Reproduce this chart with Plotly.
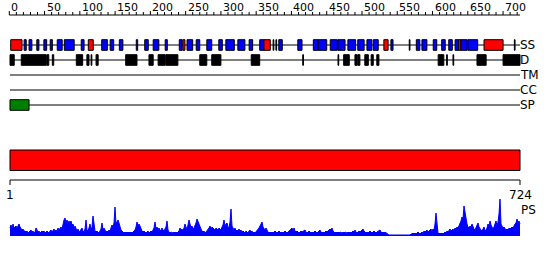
import numpy as np
import plotly.graph_objects as go

# ---------------- data ----------------
LENGTH = 724
TOP_TICKS = list(range(0, 721, 10))
TOP_LABELS = list(range(0, 701, 50))
TRACKS = ["SS", "D", "TM", "CC", "SP"]

SS_HELIX = [(2, 18), (112, 119), (246, 249), (361, 370), (531, 537), (637, 640), (673, 700)]
SS_STRAND = [(21, 24), (28, 32), (39, 42), (49, 53), (58, 61), (68, 75), (78, 92), (102, 106),
             (131, 139), (143, 148), (156, 161), (180, 182), (192, 197), (204, 212), (221, 224),
             (241, 245), (252, 260), (265, 270), (280, 287), (297, 302), (307, 319), (324, 334),
             (340, 345), (355, 361), (374, 375), (378, 379), (382, 387), (409, 415), (431, 438),
             (438, 450), (455, 465), (466, 476), (480, 491), (494, 503), (507, 514), (516, 523),
             (541, 544), (567, 568), (577, 582), (585, 592), (601, 606), (613, 618), (623, 628),
             (632, 637), (640, 649), (650, 664), (716, 717)]
DISORDER = [(1, 7), (17, 52), (53, 56), (61, 63), (95, 104), (110, 113), (116, 117), (123, 126),
            (165, 181), (198, 204), (211, 221), (222, 239), (270, 280), (287, 300), (343, 355),
            (416, 417), (466, 467), (474, 482), (490, 493), (494, 497), (504, 509), (513, 516),
            (521, 524), (608, 616), (620, 621), (629, 630), (663, 676), (700, 724)]
TRANSMEM = []
COILED = []
SIGNAL = [(1, 28)]
DOMAIN = [(1, 724)]

PS_VALUES = [
    8, 11, 7, 12, 8, 9, 10, 8, 11, 12,
    9, 8, 6, 7, 5, 5, 4, 5, 3, 4,
    5, 6, 4, 5, 3, 4, 8, 5, 4, 5,
    3, 4, 5, 4, 5, 3, 4, 5, 4, 3,
    5, 6, 4, 5, 7, 5, 6, 5, 8, 6,
    7, 9, 7, 14, 16, 18, 13, 16, 12, 15,
    13, 15, 11, 12, 8, 10, 6, 5, 7, 4,
    5, 6, 8, 5, 4, 7, 16, 6, 5, 8,
    12, 6, 9, 20, 8, 5, 4, 5, 4, 3,
    5, 7, 13, 6, 8, 5, 4, 5, 4, 6,
    5, 8, 11, 9, 13, 29, 12, 14, 16, 13,
    9, 6, 5, 4, 3, 4, 3, 4, 3, 4,
    3, 4, 3, 4, 5, 6, 9, 14, 10, 12,
    10, 6, 5, 4, 5, 4, 3, 4, 5, 3,
    4, 5, 4, 6, 8, 14, 7, 9, 6, 8,
    5, 6, 8, 6, 5, 7, 9, 15, 6, 4,
    3, 4, 3, 3, 4, 3, 4, 3, 4, 5,
    8, 6, 7, 5, 8, 12, 9, 7, 11, 16,
    12, 9, 10, 7, 8, 10, 13, 17, 14, 12,
    9, 7, 5, 4, 5, 3, 4, 5, 6, 8,
    10, 7, 9, 8, 7, 6, 8, 7, 6, 8,
    7, 6, 9, 11, 16, 10, 12, 13, 9, 8,
    14, 27, 10, 7, 6, 8, 5, 6, 5, 7,
    5, 6, 4, 5, 4, 3, 5, 4, 3, 5,
    6, 4, 5, 3, 4, 3, 4, 5, 6, 8,
    10, 12, 14, 9, 7, 6, 8, 5, 4, 3,
    4, 3, 4, 3, 4, 5, 4, 3, 4, 5,
    4, 3, 4, 3, 4, 5, 4, 3, 4, 5,
    6, 7, 8, 6, 8, 5, 4, 5, 4, 3,
    4, 5, 4, 5, 6, 6, 4, 3, 4, 5,
    4, 3, 4, 3, 4, 5, 4, 3, 4, 5,
    6, 4, 3, 4, 3, 4, 5, 4, 5, 6,
    7, 6, 8, 5, 4, 3, 4, 3, 4, 3,
    4, 3, 3, 4, 3, 4, 3, 3, 4, 3,
    4, 3, 4, 5, 4, 6, 4, 3, 4, 5,
    4, 5, 6, 7, 5, 4, 3, 4, 3, 4,
    5, 4, 3, 4, 5, 4, 3, 4, 5, 5,
    6, 4, 3, 4, 3, 4, 3, 2, 2, 1,
    1, 1, 1, 1, 1, 1, 1, 1, 1, 1,
    1, 1, 1, 1, 1, 1, 1, 1, 1, 1,
    1, 2, 2, 3, 2, 3, 2, 3, 4, 3,
    2, 3, 4, 3, 5, 4, 5, 6, 4, 5,
    6, 7, 5, 7, 6, 12, 23, 8, 3, 2,
    3, 2, 3, 2, 3, 4, 3, 5, 4, 6,
    7, 5, 6, 7, 5, 8, 7, 9, 8, 10,
    12, 15, 19, 17, 30, 22, 15, 12, 9, 8,
    10, 9, 12, 8, 7, 6, 8, 10, 13, 9,
    7, 6, 5, 7, 9, 6, 5, 8, 12, 10,
    15, 11, 8, 7, 9, 12, 15, 10, 14, 22,
    37, 12, 9, 8, 9, 7, 6, 7, 6, 8,
    7, 8, 9, 8, 11, 12, 13, 17, 13, 15,
    12,
]

# ---------------- layout constants (pixel rows) ----------------
W, H = 550, 260
PX_LEFT, PX_RIGHT = 10, 520
scale = (LENGTH - 1) / (PX_RIGHT - PX_LEFT)
x_min = 1 - PX_LEFT * scale
x_max = 1 + (W - PX_LEFT) * scale

TRACK_Y = {"SS": 45, "D": 60, "TM": 75, "CC": 90, "SP": 105}
BOX_HALF = 5.3
AXIS_TOP_Y = 15
DOMAIN_Y = (150, 170.5)
AXIS_BOT_Y = 180
PS_BASE = 236
PS_H = 40

BLACK = "#000000"
RED = "#FF0000"
BLUE = "#0000FF"
GREEN = "#008000"

shapes = []
annotations = []


def line(x0, y0, x1, y1, color=BLACK, w=1):
    shapes.append(dict(type="line", xref="x", yref="y", x0=x0, y0=y0, x1=x1, y1=y1,
                       line=dict(color=color, width=w)))


def box(x0, x1, yc, half, fill):
    shapes.append(dict(type="rect", xref="x", yref="y", x0=x0, x1=x1,
                       y0=yc - half, y1=yc + half, fillcolor=fill,
                       line=dict(color=BLACK, width=1)))


def text(x, y, s, size, xanchor="left", xshift=0):
    annotations.append(dict(x=x, y=y, xref="x", yref="y", text=s, showarrow=False,
                            xanchor=xanchor, yanchor="middle", xshift=xshift,
                            font=dict(family="DejaVu Sans", size=size, color=BLACK)))


# top ruler
line(TOP_TICKS[0], AXIS_TOP_Y, LENGTH, AXIS_TOP_Y)
for t in TOP_TICKS:
    ht = 4 if t % 50 == 0 else 3
    line(t, AXIS_TOP_Y, t, AXIS_TOP_Y - ht)
for t in TOP_LABELS:
    text(t, 7, str(t), 11, "left")

# track baselines
for name in TRACKS:
    line(1, TRACK_Y[name], LENGTH, TRACK_Y[name])
    text(LENGTH, TRACK_Y[name], name, 12, "left", -2)

for s, e in SS_STRAND:
    box(s, e, TRACK_Y["SS"], BOX_HALF, BLUE)
for s, e in SS_HELIX:
    box(s, e, TRACK_Y["SS"], BOX_HALF, RED)
for s, e in DISORDER:
    box(s, e, TRACK_Y["D"], BOX_HALF, BLACK)
for s, e in TRANSMEM:
    box(s, e, TRACK_Y["TM"], BOX_HALF, BLACK)
for s, e in COILED:
    box(s, e, TRACK_Y["CC"], BOX_HALF, BLACK)
for s, e in SIGNAL:
    box(s, e, TRACK_Y["SP"], BOX_HALF, GREEN)

# domain bar
for s, e in DOMAIN:
    shapes.append(dict(type="rect", xref="x", yref="y", x0=s, x1=e,
                       y0=DOMAIN_Y[0], y1=DOMAIN_Y[1], fillcolor=RED,
                       line=dict(color=BLACK, width=1)))

# bottom ruler
line(1, AXIS_BOT_Y, LENGTH, AXIS_BOT_Y)
line(1, AXIS_BOT_Y, 1, AXIS_BOT_Y + 5)
line(LENGTH, AXIS_BOT_Y, LENGTH, AXIS_BOT_Y + 5)
text(1, 195, "1", 12, "center")
text(LENGTH, 195, str(LENGTH), 12, "center")
text(LENGTH, 210, "PS", 12, "left", -1)

ps_x = np.linspace(1, LENGTH, len(PS_VALUES))

fig = go.Figure()
fig.add_trace(go.Scatter(x=ps_x, y=PS_VALUES, mode="lines", fill="tozeroy",
                         line=dict(color=BLUE, width=1), fillcolor=BLUE,
                         yaxis="y2", hoverinfo="skip"))

fig.update_layout(
    width=W, height=H,
    margin=dict(l=0, r=0, t=0, b=0, pad=0),
    paper_bgcolor="white", plot_bgcolor="rgba(0,0,0,0)",
    showlegend=False,
    xaxis=dict(range=[x_min, x_max], visible=False, fixedrange=True),
    yaxis=dict(range=[H, 0], visible=False, fixedrange=True, domain=[0, 1]),
    yaxis2=dict(range=[0, PS_H], visible=False, fixedrange=True,
                domain=[1 - PS_BASE / H, 1 - (PS_BASE - PS_H) / H], anchor="x"),
    shapes=shapes,
    annotations=annotations,
)

fig.write_html("out.html")
